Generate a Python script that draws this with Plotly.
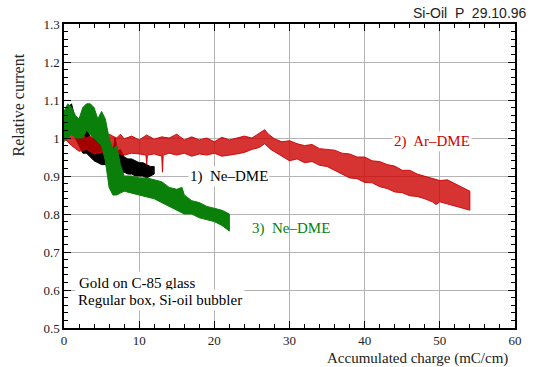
import plotly.graph_objects as go

# --- data: upper / lower envelopes of each noisy trace ---
black_up_x = [0, 0.5, 1, 1.5, 2, 2.5, 3, 3.5, 4, 4.5, 5, 5.5, 6, 6.5, 6.8, 7.1, 7.5, 8, 8.5, 9, 9.5, 10, 10.5, 11, 11.5, 12]
black_up_y = [1.07, 1.08, 1.09, 1.05, 1.04, 1.02, 1.03, 1.0, 1.0, 0.99, 0.99, 0.98, 0.985, 0.965, 1.0, 0.965, 0.97, 0.95, 0.945, 0.945, 0.94, 0.935, 0.935, 0.93, 0.925, 0.925]
black_lo_x = [0, 0.5, 1, 1.5, 2, 2.5, 3, 3.5, 4, 4.5, 5, 5.5, 6, 6.5, 7, 7.5, 8, 8.5, 9, 9.5, 10, 10.5, 11, 11.5, 12]
black_lo_y = [1.02, 1.03, 1.02, 1.0, 0.98, 0.96, 0.96, 0.95, 0.94, 0.935, 0.93, 0.93, 0.92, 0.9, 0.91, 0.91, 0.91, 0.905, 0.905, 0.9, 0.9, 0.9, 0.895, 0.9, 0.905]

red_up_x = [0, 0.5, 1, 1.5, 2, 3, 4, 5, 6, 7, 7.5, 8, 9, 10, 11, 12, 13, 14, 15, 16, 17, 18, 19, 20, 21, 22, 23, 24, 25, 26, 26.7, 27.2, 28, 29, 30, 31, 32, 33, 34, 35, 36, 37, 38, 39, 40, 41, 42, 43, 44, 45, 46, 47, 48, 49, 50, 51, 52, 53, 54]
red_up_y = [1.05, 1.02, 1.03, 1.01, 1.015, 1.0, 1.01, 0.995, 1.01, 1.0, 1.01, 0.998, 1.005, 0.995, 1.008, 0.997, 1.003, 1.0, 1.01, 0.995, 1.003, 0.995, 1.0, 0.99, 1.002, 0.995, 1.0, 1.005, 1.0, 1.012, 1.022, 1.01, 0.998, 0.99, 0.993, 0.985, 0.98, 0.983, 0.972, 0.97, 0.968, 0.96, 0.958, 0.95, 0.95, 0.94, 0.938, 0.93, 0.926, 0.915, 0.915, 0.905, 0.9, 0.895, 0.888, 0.89, 0.88, 0.87, 0.86]
red_lo_x = [0, 1, 2, 3, 4, 5, 6, 7, 8, 9, 10, 10.9, 11, 11.1, 12, 13, 13.1, 13.2, 14, 15, 16, 17, 18, 19, 20, 21, 22, 23, 24, 25, 26, 26.7, 27.5, 28, 29, 30, 31, 32, 33, 34, 35, 36, 37, 38, 39, 40, 41, 42, 43, 44, 45, 46, 47, 48, 49, 49.5, 50, 51, 52, 53, 54]
red_lo_y = [1.0, 0.98, 0.965, 0.97, 0.958, 0.962, 0.955, 0.96, 0.955, 0.96, 0.958, 0.955, 0.93, 0.955, 0.958, 0.952, 0.91, 0.955, 0.96, 0.955, 0.96, 0.952, 0.958, 0.955, 0.96, 0.952, 0.955, 0.958, 0.962, 0.97, 0.975, 0.985, 0.97, 0.965, 0.952, 0.94, 0.945, 0.935, 0.938, 0.928, 0.925, 0.915, 0.905, 0.895, 0.893, 0.883, 0.882, 0.872, 0.867, 0.858, 0.856, 0.848, 0.846, 0.84, 0.832, 0.825, 0.832, 0.826, 0.82, 0.815, 0.81]

green_up_x = [0, 0.5, 1, 1.5, 2, 2.5, 3, 3.5, 4, 4.5, 5, 5.5, 6, 6.5, 7, 7.5, 8, 9, 10, 11, 12, 13, 14, 15, 15.7, 16, 17, 18, 19, 20, 21, 22]
green_up_y = [1.07, 1.09, 1.08, 1.06, 1.05, 1.08, 1.09, 1.09, 1.08, 1.05, 1.07, 1.05, 1.0, 0.97, 0.98, 0.93, 0.9, 0.9, 0.895, 0.895, 0.89, 0.885, 0.87, 0.865, 0.87, 0.85, 0.835, 0.83, 0.82, 0.815, 0.81, 0.8]
green_lo_x = [0, 0.5, 1, 1.5, 2, 2.5, 3, 3.5, 4, 4.5, 5, 5.5, 6, 6.5, 7, 7.5, 8, 9, 10, 11, 12, 13, 14, 15, 16, 17, 18, 19, 20, 21, 22]
green_lo_y = [0.99, 1.0, 1.01, 1.0, 1.0, 1.0, 1.02, 1.01, 1.0, 0.99, 0.98, 0.94, 0.87, 0.85, 0.85, 0.855, 0.86, 0.855, 0.85, 0.845, 0.84, 0.83, 0.82, 0.81, 0.8, 0.8, 0.79, 0.785, 0.78, 0.77, 0.755]

x_ticks = [0, 10, 20, 30, 40, 50, 60]
y_ticks = [0.5, 0.6, 0.7, 0.8, 0.9, 1.0, 1.1, 1.2, 1.3]

SERIF = "Liberation Serif"


def band(ux, uy, lx, ly, line_color, fill_color, name):
    return go.Scatter(
        x=list(ux) + list(lx)[::-1],
        y=list(uy) + list(ly)[::-1],
        fill="toself",
        fillcolor=fill_color,
        mode="lines",
        line=dict(color=line_color, width=1),
        name=name,
        hoverinfo="skip",
        showlegend=False,
    )


fig = go.Figure()
fig.add_trace(band(black_up_x, black_up_y, black_lo_x, black_lo_y, "black", "black", "1) Ne-DME"))
fig.add_trace(band(red_up_x, red_up_y, red_lo_x, red_lo_y, "rgba(204,0,0,0.9)", "rgba(204,0,0,0.8)", "2) Ar-DME"))
fig.add_trace(band(green_up_x, green_up_y, green_lo_x, green_lo_y, "#0a800a", "#0a800a", "3) Ne-DME"))

fig.update_xaxes(
    range=[0, 60], tickvals=x_ticks, showgrid=True, gridcolor="#b4b4b4", gridwidth=1,
    ticks="inside", ticklen=7, tickwidth=1, tickcolor="black",
    showline=True, linecolor="black", linewidth=1.5, mirror="ticks", zeroline=False,
    minor=dict(dtick=2, ticks="inside", ticklen=4, tickcolor="black", showgrid=False),
    tickfont=dict(family=SERIF, size=13, color="#222"),
)
fig.update_yaxes(
    range=[0.5, 1.3], tickvals=y_ticks, ticktext=[("%g" % v) for v in y_ticks],
    showgrid=True, gridcolor="#b4b4b4", gridwidth=1,
    ticks="inside", ticklen=7, tickwidth=1, tickcolor="black",
    showline=True, linecolor="black", linewidth=1.5, mirror="ticks", zeroline=False,
    minor=dict(dtick=0.02, ticks="inside", ticklen=4, tickcolor="black", showgrid=False),
    tickfont=dict(family=SERIF, size=13, color="#222"),
)

anns = [
    dict(text="Si-Oil  P  29.10.96", xref="paper", yref="paper", x=1.03, y=1.0, xanchor="right", yanchor="bottom",
         font=dict(family="Liberation Sans", size=14, color="#222"), yshift=1),
    dict(text="Relative current", xref="paper", yref="paper", x=-0.1, y=0.735, textangle=-90,
         xanchor="center", yanchor="middle", font=dict(family=SERIF, size=16, color="#222")),
    dict(text="Accumulated charge (mC/cm)", xref="paper", yref="paper", x=0.99, y=-0.065,
         xanchor="right", yanchor="top", font=dict(family=SERIF, size=15, color="#222")),
    dict(text="1)  Ne\u2013DME", x=16.5, y=0.9, xanchor="left", yanchor="middle", bgcolor="white",
         font=dict(family=SERIF, size=15, color="black")),
    dict(text="2)  Ar\u2013DME", x=43.7, y=0.99, xanchor="left", yanchor="middle", bgcolor="white",
         font=dict(family=SERIF, size=15, color="#cc0000")),
    dict(text="3)  Ne\u2013DME", x=24.8, y=0.763, xanchor="left", yanchor="middle",
         font=dict(family=SERIF, size=15, color="#0a800a")),
    dict(text="Gold on C-85 glass", x=1.5, y=0.618, xanchor="left", yanchor="middle",
         bgcolor="white", borderpad=3, font=dict(family=SERIF, size=15, color="black")),
    dict(text="Regular box, Si-oil bubbler", x=1.5, y=0.573, xanchor="left", yanchor="middle",
         bgcolor="white", borderpad=2, font=dict(family=SERIF, size=15, color="black")),
]
for a in anns:
    a.setdefault("showarrow", False)
    fig.add_annotation(**a)

fig.update_layout(
    width=534, height=367,
    margin=dict(l=64, r=14, t=24, b=39),
    paper_bgcolor="white", plot_bgcolor="white",
    showlegend=False,
)

fig.write_html("out.html", config={"displayModeBar": False},
               post_script="document.body.style.margin='0';")
